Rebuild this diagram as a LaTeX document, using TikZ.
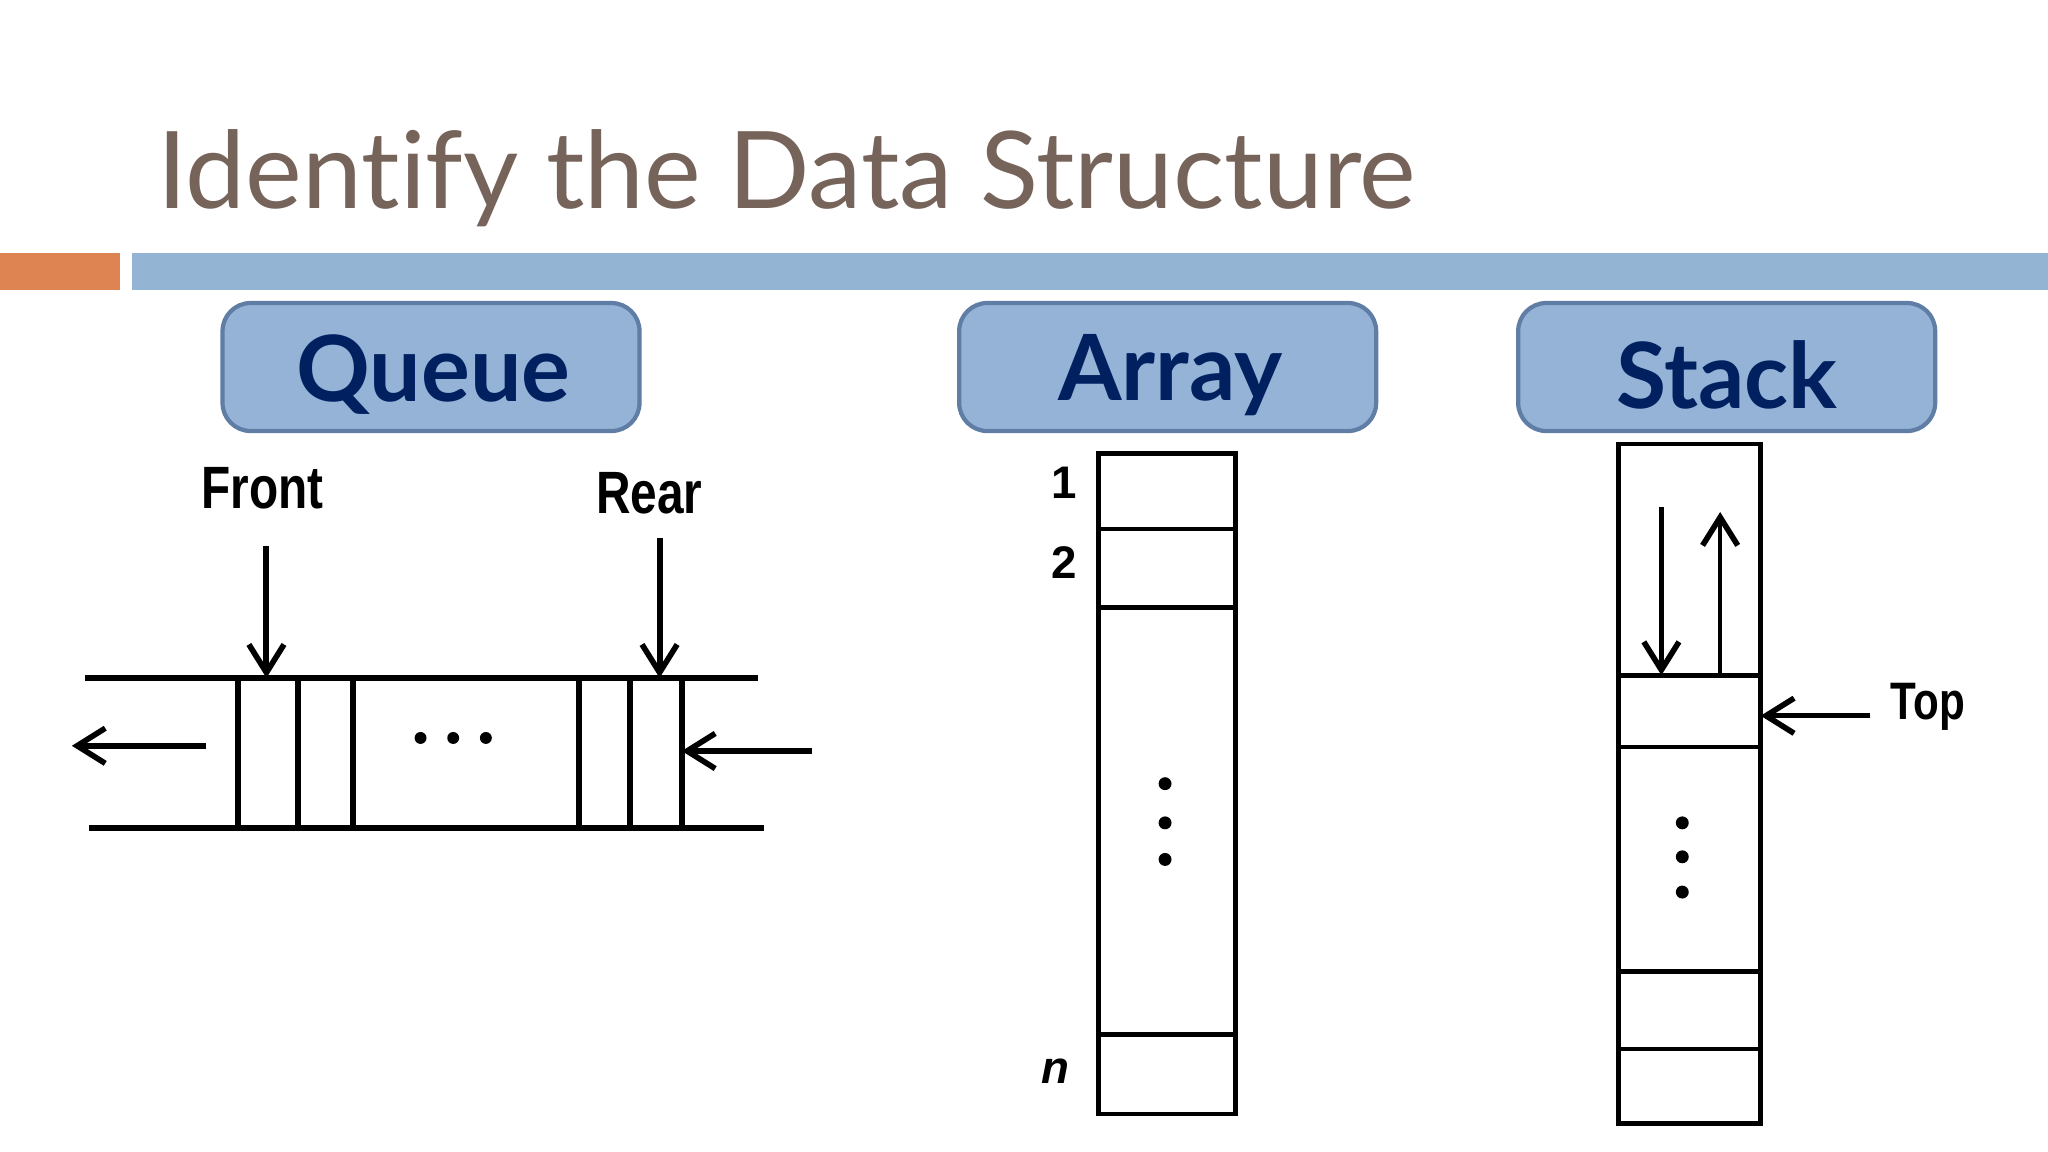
\documentclass[tikz,border=0pt]{standalone}
\usepackage{fontspec}
\setmainfont{Lato}[Ligatures=NoCommon]
\newfontfamily\arialf{Liberation Sans}
\usetikzlibrary{arrows.meta}
\definecolor{titlec}{RGB}{118,100,90}
\definecolor{orangeb}{RGB}{221,132,82}
\definecolor{blueb}{RGB}{148,180,212}
\definecolor{boxfill}{RGB}{149,179,215}
\definecolor{boxdraw}{RGB}{95,125,165}
\definecolor{navy}{RGB}{0,32,96}
\tikzset{
 lbl/.style={draw=boxdraw,line width=1.2pt,fill=boxfill,rounded corners=8pt,minimum width=4.17cm,minimum height=1.28cm},
 lbltext/.style={text=navy,font=\fontsize{26}{26}\selectfont\bfseries},
 ln/.style={line width=1.3pt},
 qln/.style={line width=1.7pt},
 arr/.style={line width=1.3pt,-{Straight Barb[length=8pt,width=10pt,line width=1.6pt]}},
 hand/.style={font=\arialf\fontsize{17}{17}\selectfont\bfseries},
 dot/.style={circle,fill=black,inner sep=1.3pt}
}
\begin{document}
\begin{tikzpicture}[x=0.013061cm,y=-0.013061cm]
\useasboundingbox (0,0) rectangle (1568,882);
\node[anchor=base west,text=titlec,font=\fontsize{30.5}{30.5}\selectfont,inner sep=0] (title) at (120,160) {Identify the Data Structure};
\fill[orangeb] (0,194) rectangle (92,222);
\fill[blueb] (101,194) rectangle (1568,222);
\node[lbl] (q) at (330,281) {};
\node[lbl] (a) at (894,281) {};
\node[lbl] (s) at (1322,281) {};
\node[lbltext] at (332,287) {Queue};
\node[lbltext] at (896,287) {Array};
\node[lbltext] at (1322,287) {Stack};
% Queue
\draw[qln] (65,519) -- (580,519);
\draw[qln] (68,634) -- (585,634);
\foreach \x in {182,228,270,443,482,522} \draw[qln] (\x,519) -- (\x,634);
\foreach \x in {322,347,372} \node[dot,inner sep=1.2pt] at (\x,565) {};
\coordinate (ql1) at (158,571); \coordinate (ql2) at (55,571);
\draw[arr,line width=1.7pt] (ql1) -- (ql2);
\coordinate (qr1) at (622,575); \coordinate (qr2) at (522,575);
\draw[arr,line width=1.7pt] (qr1) -- (qr2);
\node[hand,xscale=0.8] (front) at (201,374) {Front};
\node[hand,xscale=0.8] (rear) at (497,378) {Rear};
\coordinate (f2) at (204,519); \coordinate (r2) at (505,519);
\draw[arr,line width=1.7pt] (204,418) -- (f2);
\draw[arr,line width=1.7pt] (505,412) -- (r2);
% Array
\draw[ln] (841,347) rectangle (946,853);
\foreach \y in {405,465,792} \draw[ln] (841,\y) -- (946,\y);
\node[font=\arialf\fontsize{13}{13}\selectfont\bfseries] (a1) at (815,370) {1};
\node[font=\arialf\fontsize{13}{13}\selectfont\bfseries] (a2) at (815,431) {2};
\node[font=\arialf\fontsize{13}{13}\selectfont\bfseries\itshape] (an) at (808,820) {n};
\foreach \y in {600,630,658} \node[dot] at (892,\y) {};
% Stack
\draw[ln] (1239,340) rectangle (1348,860);
\foreach \y in {517,572,744,803} \draw[ln] (1239,\y) -- (1348,\y);
\coordinate (sd) at (1272,517); \coordinate (su) at (1317,392);
\draw[arr] (1272,388) -- (sd);
\draw[arr] (1317,517) -- (su);
\node[hand,xscale=0.8,font=\arialf\fontsize{15}{15}\selectfont\bfseries] (top) at (1476,541) {Top};
\coordinate (tp) at (1348,548);
\draw[arr] (1432,548) -- (tp);
\foreach \y in {630,656,683} \node[dot] at (1288,\y) {};
\end{tikzpicture}
\end{document}
